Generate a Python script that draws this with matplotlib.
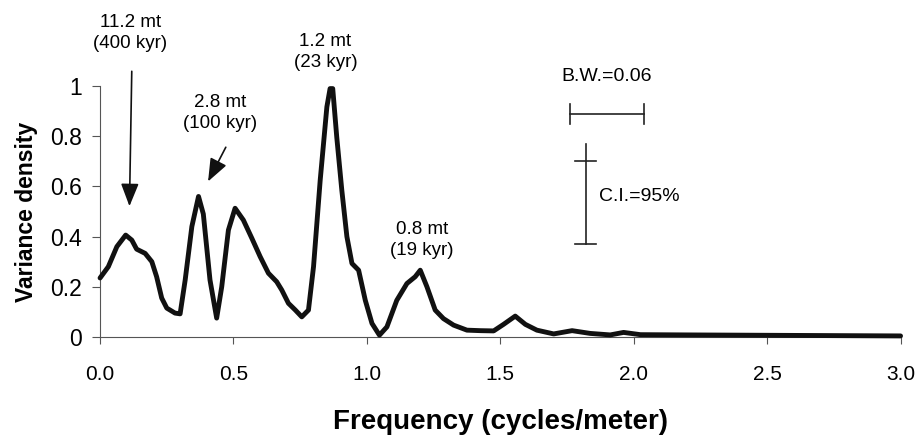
import matplotlib
matplotlib.use("Agg")
import matplotlib.pyplot as plt
import numpy as np

# spectrum
freq = [0.0, 0.031, 0.063, 0.096, 0.119, 0.137, 0.169, 0.194, 0.212, 0.231,
        0.25, 0.281, 0.30, 0.319, 0.344, 0.369, 0.387, 0.412, 0.437, 0.456,
        0.481, 0.506, 0.537, 0.569, 0.60, 0.631, 0.662, 0.681, 0.706, 0.731,
        0.756, 0.781, 0.80, 0.825, 0.85, 0.862, 0.872, 0.887, 0.906, 0.925,
        0.944, 0.969, 0.994, 1.019, 1.047, 1.075, 1.112, 1.15, 1.181, 1.20,
        1.225, 1.256, 1.287, 1.325, 1.375, 1.425, 1.475, 1.512, 1.556, 1.594,
        1.637, 1.70, 1.769, 1.837, 1.912, 1.962, 2.025, 2.2, 2.6, 3.0]
density = [0.235, 0.28, 0.36, 0.406, 0.386, 0.35, 0.333, 0.30, 0.24, 0.155,
           0.115, 0.095, 0.092, 0.227, 0.44, 0.56, 0.49, 0.227, 0.075, 0.20,
           0.426, 0.513, 0.466, 0.393, 0.32, 0.254, 0.22, 0.187, 0.134, 0.108,
           0.08, 0.107, 0.28, 0.625, 0.917, 0.99, 0.99, 0.797, 0.585, 0.40,
           0.293, 0.266, 0.146, 0.054, 0.007, 0.04, 0.146, 0.213, 0.24, 0.266,
           0.20, 0.107, 0.073, 0.047, 0.027, 0.025, 0.024, 0.05, 0.083, 0.05,
           0.027, 0.012, 0.025, 0.014, 0.008, 0.018, 0.009, 0.008, 0.006, 0.004]

x_ticks = [0.0, 0.5, 1.0, 1.5, 2.0, 2.5, 3.0]
y_ticks = [0, 0.2, 0.4, 0.6, 0.8, 1.0]
y_ticklabels = ["0", "0.2", "0.4", "0.6", "0.8", "1"]

peak_labels = ["1.2 mt\n(23 kyr)", "0.8 mt\n(19 kyr)"]
peak_pos = [(0.845, 1.137), (1.207, 0.386)]

arrow_labels = ["11.2 mt\n(400 kyr)", "2.8 mt\n(100 kyr)"]
arrow_text_pos = [(0.114, 1.21), (0.45, 0.894)]
arrow_start = [(0.119, 1.07), (0.476, 0.766)]
arrow_tip = [(0.11, 0.51), (0.40, 0.61)]

bw_x = [1.76, 2.04]
bw_y = 0.89
ci_x = 1.82
ci_y = [0.37, 0.77]
ci_mid = 0.70

plt.rcParams["font.family"] = ["Liberation Sans", "DejaVu Sans"]

fig = plt.figure(figsize=(9.18, 4.37), dpi=100)
ax = fig.add_axes([0.109, 0.229, 0.872, 0.574])

ax.plot(freq, density, color="#111111", lw=3.5, solid_joinstyle="round",
        solid_capstyle="round", clip_on=False, zorder=3)

ax.set_xlim(0, 3.0)
ax.set_ylim(0, 1.0)
ax.set_xticks(x_ticks)
ax.set_xticklabels(["{:.1f}".format(t) for t in x_ticks],
                   family=["Liberation Sans Narrow", "Liberation Sans"],
                   fontsize=15)
ax.set_yticks(y_ticks)
ax.set_yticklabels(y_ticklabels, fontsize=16.5)
ax.tick_params(axis="x", direction="out", length=5, width=0.8, pad=15,
               color="#555555")
ax.tick_params(axis="y", direction="out", length=6, width=0.8, pad=7,
               color="#555555")
for side in ["top", "right"]:
    ax.spines[side].set_visible(False)
for side in ["left", "bottom"]:
    ax.spines[side].set_linewidth(0.8)
    ax.spines[side].set_color("#555555")

ax.set_xlabel("Frequency (cycles/meter)", fontsize=20, fontweight="bold",
              labelpad=18)
ax.set_ylabel("Variance density", fontsize=16.5, fontweight="bold",
              labelpad=9)

for lab, (x, y) in zip(peak_labels, peak_pos):
    ax.text(x, y, lab, ha="center", va="center", fontsize=13.5,
            linespacing=1.3, clip_on=False)

for lab, (x, y), s, t in zip(arrow_labels, arrow_text_pos, arrow_start,
                             arrow_tip):
    ax.text(x, y, lab, ha="center", va="center", fontsize=13.5,
            linespacing=1.3, clip_on=False)
    ax.annotate("", xy=t, xytext=s, annotation_clip=False,
                arrowprops=dict(arrowstyle="-|>,head_length=1.4,head_width=0.55",
                                color="#111111", lw=1.2))

# bandwidth bar
ax.plot(bw_x, [bw_y, bw_y], color="#222222", lw=1.2, clip_on=False)
for x in bw_x:
    ax.plot([x, x], [bw_y - 0.04, bw_y + 0.04], color="#222222", lw=1.2,
            clip_on=False)
ax.text(np.mean(bw_x), 1.04, "B.W.=0.06", ha="center", va="center",
        fontsize=14, clip_on=False)

# confidence interval bar
ax.plot([ci_x, ci_x], ci_y, color="#222222", lw=1.2)
ax.plot([ci_x - 0.04, ci_x + 0.04], [ci_mid, ci_mid], color="#222222", lw=1.2)
ax.plot([ci_x - 0.04, ci_x + 0.04], [ci_y[0], ci_y[0]], color="#222222", lw=1.2)
ax.text(ci_x + 0.05, 0.56, "C.I.=95%", ha="left", va="center", fontsize=14)

fig.savefig("out.png", dpi=100)
